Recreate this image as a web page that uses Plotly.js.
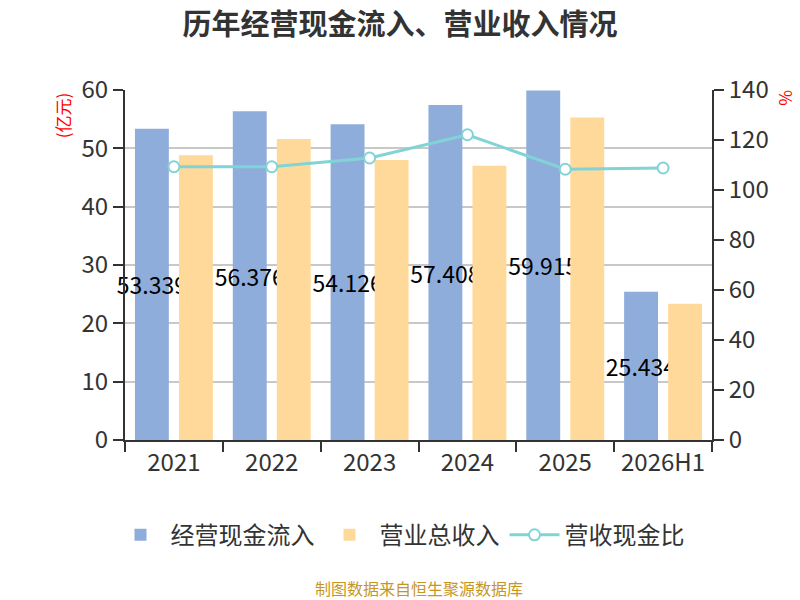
<!DOCTYPE html>
<html>
<head>
<meta charset="utf-8">
<script src="https://cdn.plot.ly/plotly-3.0.1.min.js"></script>
<style>
  body { margin: 0; background: #fff; }
  #myChart { width: 800px; height: 600px; }
</style>
</head>
<body>
<div id="myChart"></div>
<script>
// chart data
var years = ['2021', '2022', '2023', '2024', '2025', '2026H1'];
var cashIn = [53.339, 56.376, 54.126, 57.408, 59.915, 25.434];   // 经营现金流入 (亿元)
var revenue = [48.8, 51.6, 48.0, 47.0, 55.3, 23.37];             // 营业总收入 (亿元)
var ratio = [109.3, 109.3, 112.8, 122.1, 108.3, 108.8];          // 营收现金比 (%)
var leftTicks = [0, 10, 20, 30, 40, 50, 60];
var rightTicks = [0, 20, 40, 60, 80, 100, 120, 140];

var labels = [];
for (let i = 0; i < cashIn.length; i++) {
  labels.push(cashIn[i].toFixed(3));
}

var font = '"Noto Sans CJK SC", "Noto Sans", sans-serif';

var trace1 = {
  x: years,
  y: cashIn,
  name: '经营现金流入',
  type: 'bar',
  marker: { color: '#8eaddb' },
  text: labels,
  textposition: 'inside',
  insidetextanchor: 'middle',
  textangle: 0,
  constraintext: 'none',
  cliponaxis: false,
  textfont: { color: '#000', size: 23, family: font },
  hoverinfo: 'x+y'
};

var trace2 = {
  x: years,
  y: revenue,
  name: '营业总收入',
  type: 'bar',
  marker: { color: '#ffd99a' },
  hoverinfo: 'x+y'
};

var trace3 = {
  x: years,
  y: ratio,
  name: '营收现金比',
  type: 'scatter',
  mode: 'lines+markers',
  yaxis: 'y2',
  line: { color: '#80d4d6', width: 3 },
  marker: { symbol: 'circle', size: 11, color: '#fff', line: { color: '#80d4d6', width: 2 } }
};

var layout = {
  width: 800,
  height: 600,
  font: { family: font, color: '#333' },
  paper_bgcolor: '#fff',
  plot_bgcolor: '#fff',
  margin: { l: 125, r: 88, t: 90, b: 160 },
  title: {
    text: '<b>历年经营现金流入、营业收入情况</b>',
    font: { size: 29, color: '#333', family: font },
    x: 0.5, xanchor: 'center',
    y: 0.958, yanchor: 'middle'
  },
  barmode: 'group',
  bargap: 0.1,
  bargroupgap: 0.23,
  xaxis: {
    type: 'category',
    showline: true, linecolor: '#333', linewidth: 2,
    ticks: 'outside', ticklen: 10, tickcolor: '#333', tickwidth: 2,
    tickson: 'boundaries',
    tickfont: { size: 24, color: '#333' },
    showgrid: false,
    zeroline: false
  },
  yaxis: {
    range: [0, 60],
    tickvals: leftTicks,
    showline: true, linecolor: '#333', linewidth: 2,
    ticks: 'outside', ticklen: 10, tickcolor: '#333', tickwidth: 2,
    tickfont: { size: 24, color: '#333' },
    gridcolor: '#c8c8c8', gridwidth: 1.5,
    zeroline: false
  },
  yaxis2: {
    overlaying: 'y',
    side: 'right',
    range: [0, 140],
    tickvals: rightTicks,
    showline: true, linecolor: '#333', linewidth: 2,
    ticks: 'outside', ticklen: 10, tickcolor: '#333', tickwidth: 2,
    tickfont: { size: 24, color: '#333' },
    showgrid: false,
    zeroline: false
  },
  legend: {
    orientation: 'h',
    x: 0.5, xanchor: 'center', xref: 'container',
    y: 0.108, yanchor: 'middle', yref: 'container',
    font: { size: 24, color: '#333' },
    itemwidth: 50,
    traceorder: 'normal'
  },
  annotations: [
    {
      text: '(亿元)', xref: 'paper', yref: 'paper', x: -0.107, y: 1, yanchor: 'top',
      xanchor: 'center', textangle: -90, showarrow: false,
      font: { size: 17, color: '#ff0000' }
    },
    {
      text: '%', xref: 'paper', yref: 'paper', x: 1.128, y: 1.005, yanchor: 'top',
      xanchor: 'center', textangle: 90, showarrow: false,
      font: { size: 17, color: '#ff0000' }
    },
    {
      text: '制图数据来自恒生聚源数据库', xref: 'paper', yref: 'paper',
      x: 0.5, y: -0.423, xanchor: 'center', yanchor: 'middle', showarrow: false,
      font: { size: 16, color: '#c8961e' }
    }
  ]
};

Plotly.newPlot('myChart', [trace1, trace2, trace3], layout, { displayModeBar: false });
</script>
</body>
</html>
